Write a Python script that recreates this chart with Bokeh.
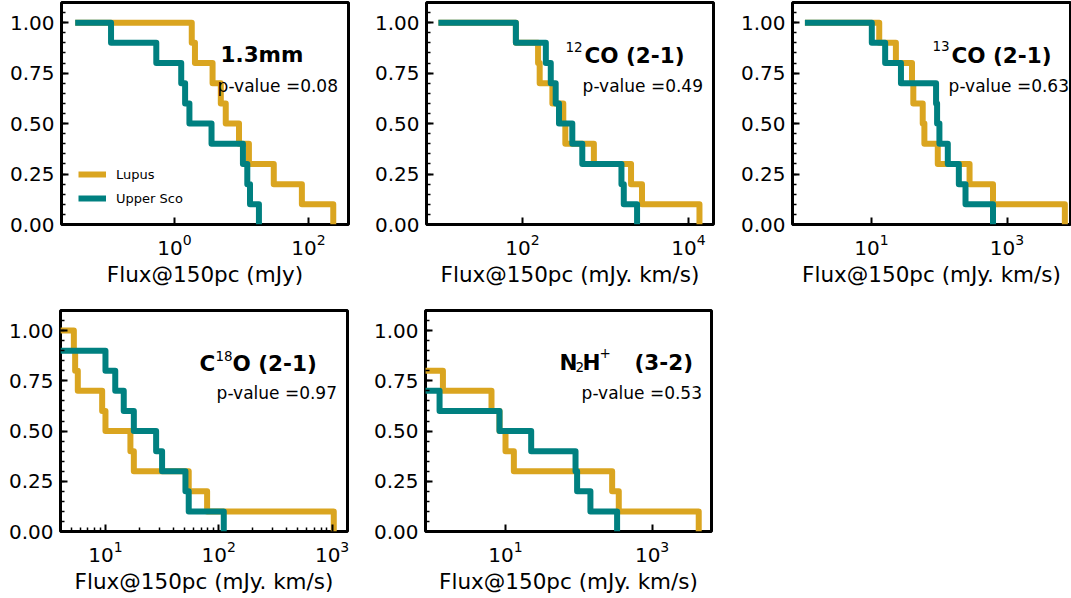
from bokeh.plotting import figure
from bokeh.models import Range1d, FixedTicker, PrintfTickFormatter, Label, Legend, LegendItem
from bokeh.layouts import row, column
from bokeh.embed import file_html
from bokeh.resources import INLINE

GOLD = "#DAA520"
TEAL = "#008080"
FONT = "DejaVu Sans"

# ---------------- data (fluxes at 150 pc, survival fractions) ----------------
mm13_lupus_flux = [0.033, 1.81, 2.02, 3.70, 4.91, 5.82, 9.18, 12.9, 30.3, 79.6, 234.0]
mm13_lupus_frac = [1.0, 0.9, 0.8, 0.7, 0.6, 0.5, 0.4, 0.3, 0.2, 0.1, 0.0]
mm13_usco_flux = [0.033, 0.113, 0.535, 1.26, 1.44, 1.67, 3.57, 10.5, 12.2, 13.4, 18.2]
mm13_usco_frac = [1.0, 0.9, 0.8, 0.7, 0.6, 0.5, 0.4, 0.3, 0.2, 0.1, 0.0]

co12_lupus_flux = [9.7, 83.2, 154, 161, 229, 310, 328, 724, 2030, 2750, 13550]
co12_lupus_frac = [1.0, 0.9, 0.8, 0.7, 0.6, 0.5, 0.4, 0.3, 0.2, 0.1, 0.0]
co12_usco_flux = [9.7, 83.2, 191, 219, 251, 275, 398, 525, 1556, 1660, 2400]
co12_usco_frac = [1.0, 0.9, 0.8, 0.7, 0.6, 0.5, 0.4, 0.3, 0.2, 0.1, 0.0]

co13_lupus_flux = [1.04, 13.0, 22.9, 39.6, 41.4, 57.0, 60.3, 95.1, 280, 621, 7140]
co13_lupus_frac = [1.0, 0.9, 0.8, 0.7, 0.6, 0.5, 0.4, 0.3, 0.2, 0.1, 0.0]
co13_usco_flux = [1.04, 10.1, 15.9, 27.2, 89.7, 92.9, 100.5, 133.7, 194.5, 244, 621]
co13_usco_frac = [1.0, 0.9, 0.8, 0.7, 0.6, 0.5, 0.4, 0.3, 0.2, 0.1, 0.0]

c18o_lupus_flux = [4.0, 5.26, 5.40, 5.70, 9.35, 10.0, 16.6, 17.8, 54.3, 78.9, 1035]
c18o_lupus_frac = [1.0, 0.9, 0.8, 0.7, 0.6, 0.5, 0.4, 0.3, 0.2, 0.1, 0.0]
c18o_usco_flux = [4.0, 10.0, 12.2, 14.5, 17.8, 28.0, 31.6, 50.8, 54.3, 110.7]
c18o_usco_frac = [0.9, 0.8, 0.7, 0.6, 0.5, 0.4, 0.3, 0.2, 0.1, 0.0]

n2h_lupus_flux = [0.8, 1.40, 6.44, 8.28, 10.0, 13.0, 285, 351, 4325]
n2h_lupus_frac = [0.8, 0.7, 0.6, 0.5, 0.4, 0.3, 0.2, 0.1, 0.0]
n2h_usco_flux = [0.8, 1.26, 8.28, 22.4, 90.2, 94.8, 144, 333]
n2h_usco_frac = [0.7, 0.6, 0.5, 0.4, 0.3, 0.2, 0.1, 0.0]

p_values = ["0.08", "0.49", "0.63", "0.97", "0.53"]
series_names = ["Lupus", "Upper Sco"]

y_ticks = [0.0, 0.25, 0.5, 0.75, 1.0]
y_minor = [0.05 * i for i in range(23)]

x_labels = ["Flux@150pc (mJy)", "Flux@150pc (mJy. km/s)", "Flux@150pc (mJy. km/s)",
            "Flux@150pc (mJy. km/s)", "Flux@150pc (mJy. km/s)"]

LW = 6
SUP = 13.5


def make_panel(width, height, bl, br, bt, bb, xr, xticks, xminor, xlabel,
               lupus, usco, title_parts, pval, legend=False):
    p = figure(width=width, height=height, x_axis_type="log",
               x_range=Range1d(*xr), y_range=Range1d(0, 1.1),
               output_backend="svg", toolbar_location=None)
    p.min_border_left = bl
    p.min_border_right = br
    p.min_border_top = bt
    p.min_border_bottom = bb
    p.background_fill_color = "white"
    p.border_fill_color = "white"
    p.xgrid.visible = False
    p.ygrid.visible = False
    p.outline_line_color = "black"
    p.outline_line_width = 3
    p.outline_line_alpha = 1.0

    for ax in (p.xaxis[0], p.yaxis[0]):
        ax.axis_line_color = None
        ax.major_tick_in = 7
        ax.major_tick_out = 0
        ax.minor_tick_in = 4
        ax.minor_tick_out = 0
        ax.major_tick_line_width = 2
        ax.minor_tick_line_width = 1.5
        ax.major_tick_line_color = "black"
        ax.minor_tick_line_color = "black"
        ax.major_label_text_font = FONT
        ax.major_label_text_font_size = "20px"
        ax.major_label_text_color = "black"
        ax.axis_label_text_font = FONT
        ax.axis_label_text_font_size = "21.5px"
        ax.axis_label_text_font_style = "normal"
        ax.axis_label_text_color = "black"

    p.xaxis.ticker = FixedTicker(ticks=xticks, minor_ticks=xminor)
    p.xaxis.major_label_standoff = 9
    p.xaxis.axis_label = xlabel
    p.xaxis.axis_label_standoff = 4
    p.yaxis.ticker = FixedTicker(ticks=y_ticks, minor_ticks=y_minor)
    p.yaxis.formatter = PrintfTickFormatter(format="%.2f")
    p.yaxis.major_label_standoff = 7

    r1 = p.step(x=lupus[0], y=lupus[1], mode="after", line_width=LW, line_color=GOLD,
                line_join="round")
    r2 = p.step(x=usco[0], y=usco[1], mode="after", line_width=LW, line_color=TEAL,
                line_join="round")

    for text, style, size, x, y in title_parts:
        p.add_layout(Label(x=x, y=y, x_units="screen", y_units="screen", text=text,
                           text_font=FONT, text_font_size=f"{size}px",
                           text_font_style=style, text_align="left",
                           text_baseline="alphabetic", text_color="black"))
    p.add_layout(Label(x=276.5, y=139, x_units="screen", y_units="screen",
                       text="p-value =" + pval, text_font=FONT, text_font_size="17px",
                       text_align="right", text_baseline="alphabetic", text_color="black"))

    if legend:
        lg = Legend(items=[LegendItem(label=series_names[0], renderers=[r1]),
                           LegendItem(label=series_names[1], renderers=[r2])],
                    location=(17, 16), padding=7, margin=0, spacing=4,
                    glyph_width=28, glyph_height=20, label_height=20,
                    label_standoff=10, label_text_font=FONT,
                    label_text_font_size="13px", label_text_color="black",
                    background_fill_alpha=0, border_line_color=None)
        p.add_layout(lg)
    return p


p1 = make_panel(365, 300, 61, 17, 2, 76, (0.0206, 395), [1, 100], [], x_labels[0],
                (mm13_lupus_flux, mm13_lupus_frac), (mm13_usco_flux, mm13_usco_frac),
                [("1.3mm", "bold", 21.5, 159, 170.5)], p_values[0], legend=True)
p2 = make_panel(362, 300, 61, 14, 2, 76, (6.97, 20000), [100, 10000], [], x_labels[1],
                (co12_lupus_flux, co12_lupus_frac), (co12_usco_flux, co12_usco_frac),
                [("12", "normal", SUP, 139, 177.5), ("CO (2-1)", "bold", 21.5, 158, 169)],
                p_values[1])
p3 = make_panel(344, 300, 65, 1, 2, 76, (0.682, 8650), [10, 1000], [], x_labels[2],
                (co13_lupus_flux, co13_lupus_frac), (co13_usco_flux, co13_usco_frac),
                [("13", "normal", SUP, 140, 179), ("CO (2-1)", "bold", 21.5, 159, 169)],
                p_values[2])
c18o_minor = [5, 6, 7, 8, 9, 20, 30, 40, 50, 60, 70, 80, 90,
              200, 300, 400, 500, 600, 700, 800, 900]
p4 = make_panel(365, 298, 60, 18, 10, 67, (4.01, 1368), [10, 100, 1000], c18o_minor,
                x_labels[3],
                (c18o_lupus_flux, c18o_lupus_frac), (c18o_usco_flux, c18o_usco_frac),
                [("C", "bold", 21.5, 139, 168), ("18", "normal", SUP, 155, 176),
                 ("O (2-1)", "bold", 21.5, 172, 168)], p_values[3])
p5 = make_panel(362, 298, 60, 16, 10, 67, (0.81, 6460), [10, 1000], [], x_labels[4],
                (n2h_lupus_flux, n2h_lupus_frac), (n2h_usco_flux, n2h_usco_frac),
                [("N", "bold", 21.5, 134, 169), ("2", "normal", SUP, 150, 165),
                 ("H", "bold", 21.5, 157, 169), ("+", "normal", SUP, 174, 179),
                 ("(3-2)", "bold", 21.5, 209, 169)], p_values[4])

layout = column(row(p1, p2, p3), row(p4, p5))
open("out.html", "w").write(file_html(layout, INLINE))
